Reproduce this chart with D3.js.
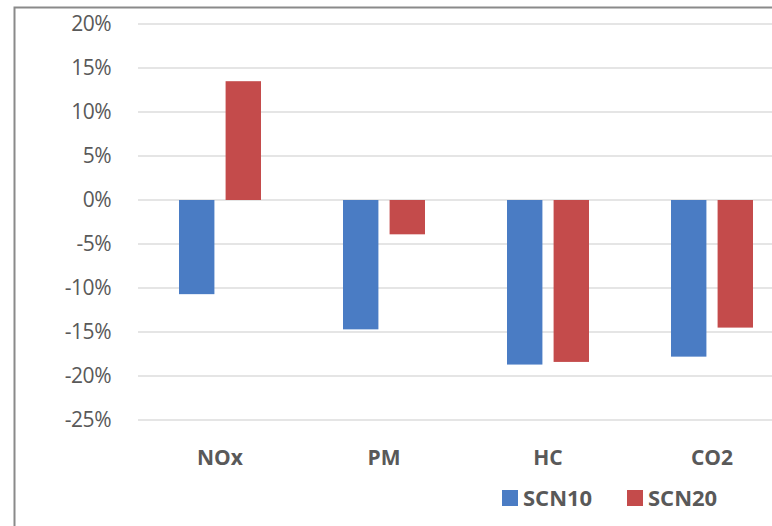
<!DOCTYPE html>
<html>
<head>
<meta charset="utf-8">
<script src="https://cdn.jsdelivr.net/npm/d3@7"></script>
<style>
  body { margin: 0; background: #fff; }
  svg { display: block; font-family: "Open Sans", "Liberation Sans", sans-serif; }
</style>
</head>
<body>
<div id="chart"></div>
<script>
// emissions change vs baseline
var categories = ["NOx", "PM", "HC", "CO2"];
var seriesNames = ["SCN10", "SCN20"];
var scn10 = [-0.107, -0.147, -0.187, -0.178];
var scn20 = [0.135, -0.039, -0.184, -0.145];
var yTicks = [0.2, 0.15, 0.1, 0.05, 0, -0.05, -0.1, -0.15, -0.2, -0.25];

var colors = { SCN10: "#4a7cc4", SCN20: "#c44b4b" };

var rows = categories.map(function(c, i) {
	return { cat: c, values: [{ key: "SCN10", v: scn10[i] }, { key: "SCN20", v: scn20[i] }] };
});

var width = 772, height = 526;

var svg = d3.select("#chart")
	.append("svg")
	.attr("width", width)
	.attr("height", height);

// frame
svg.append("path")
	.attr("d", "M14.5," + height + "V7.5H" + width)
	.attr("fill", "none")
	.attr("stroke", "#8a8a8a")
	.attr("stroke-width", 2);

var y = d3.scaleLinear()
	.domain([-0.25, 0.2])
	.range([420, 24]);

var x = d3.scaleBand()
	.domain(categories)
	.range([138, 794]);

var xSub = d3.scaleBand()
	.domain(seriesNames)
	.range([41, x.bandwidth() - 41])
	.paddingInner(0.24);

// plain hyphen, like the original
var pct = d => Math.round(d * 100) + "%";

// gridlines
svg.append("g")
	.selectAll("line")
	.data(yTicks)
	.enter()
	.append("line")
	.attr("x1", 138)
	.attr("x2", width)
	.attr("y1", d => y(d))
	.attr("y2", d => y(d))
	.attr("stroke", "#dcdcdc")
	.attr("stroke-width", 1.5);

// y axis labels
svg.append("g")
	.attr("transform", "translate(111,0)")
	.call(d3.axisLeft(y).tickValues(yTicks).tickFormat(pct).tickSize(0).tickPadding(0))
	.call(g => g.select(".domain").remove())
	.selectAll("text")
		.attr("fill", "#595959")
		.attr("font-size", 21)
		.attr("letter-spacing", -0.5)
		.attr("font-family", "Open Sans, sans-serif");

// bars
svg.append("g")
	.selectAll("g")
	.data(rows)
	.enter()
	.append("g")
	.attr("transform", d => "translate(" + x(d.cat) + ",0)")
	.selectAll("rect")
	.data(d => d.values)
	.enter()
	.append("rect")
	.attr("x", d => xSub(d.key))
	.attr("width", xSub.bandwidth())
	.attr("y", d => y(Math.max(0, d.v)))
	.attr("height", d => Math.abs(y(d.v) - y(0)))
	.attr("fill", d => colors[d.key]);

// category labels
svg.append("g")
	.attr("transform", "translate(0,457)")
	.call(d3.axisBottom(x).tickSize(0).tickPadding(0))
	.call(g => g.select(".domain").remove())
	.selectAll("text")
		.attr("fill", "#595959")
		.attr("font-size", 21)
		.attr("font-weight", "bold")
		.attr("dy", "0.36em")
		.attr("font-family", "Open Sans, sans-serif");

// legend
var legendX = [502, 627];
var legend = svg.append("g")
	.selectAll("g")
	.data(seriesNames)
	.enter()
	.append("g")
	.attr("transform", (d, i) => "translate(" + legendX[i] + ",490)");

legend.append("rect")
	.attr("width", 16)
	.attr("height", 16)
	.attr("y", 0)
	.attr("fill", d => colors[d]);

legend.append("text")
	.attr("x", 21)
	.attr("y", 8)
	.attr("dy", "0.36em")
	.attr("fill", "#595959")
	.attr("font-size", 22)
	.attr("font-weight", "bold")
	.text(d => d);
</script>
</body>
</html>
